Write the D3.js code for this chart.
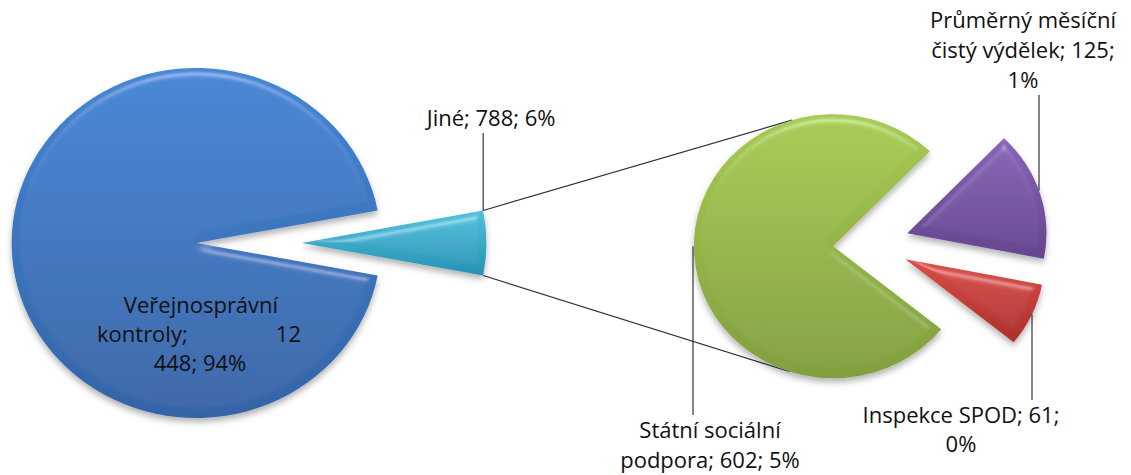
<!DOCTYPE html>
<html>
<head>
<meta charset="utf-8">
<script src="https://cdn.jsdelivr.net/npm/d3@7/dist/d3.min.js"></script>
<style>
  html, body { margin: 0; padding: 0; background: #fff; }
  svg text { font-family: 'Open Sans', sans-serif; font-size: 22px; fill: #111; }
</style>
</head>
<body>
<svg id="chart" width="1131" height="475"></svg>
<script>
// data
const mainNames = ['Veřejnosprávní kontroly', 'Jiné'];
const mainValues = [12448, 788];
const subNames = ['Státní sociální podpora', 'Průměrný měsíční čistý výdělek', 'Inspekce SPOD'];
const subValues = [602, 125, 61];

const mainColors = [['#4385d4', '#3564a6'], ['#4fc0dc', '#2692b3']];
const subColors = [['#a6cb52', '#819f3e'], ['#8763b6', '#64458e'], ['#d94d47', '#ab302c']];

const w = 1131;
const h = 475;
const sx = 1.055; // the picture is a little wider than tall
const main = { cx: 249, cy: 243, r: 175, explode: 50 };
const sub = { cx: 871, cy: 244, r: 132, explode: 36 };

const total = d3.sum(mainValues);
const fmt = d3.formatLocale({ decimal: ',', thousands: ' ', grouping: [3], currency: ['', ' Kč'] }).format(',d');
const pct = (v) => Math.round(v / total * 100) + '%';

const svg = d3.select('#chart');
const defs = svg.append('defs');

// bevel + shadow, something like the office 2007 look
const f = defs.append('filter').attr('id', 'bevel')
  .attr('x', '-10%').attr('y', '-10%').attr('width', '120%').attr('height', '130%');
f.append('feGaussianBlur').attr('in', 'SourceAlpha').attr('stdDeviation', 4).attr('result', 'blur');
f.append('feSpecularLighting').attr('in', 'blur').attr('surfaceScale', 4)
  .attr('specularConstant', 0.6).attr('specularExponent', 60)
  .attr('lighting-color', '#ffffff').attr('result', 'spec')
  .append('feDistantLight').attr('azimuth', -90).attr('elevation', 55);
f.append('feComposite').attr('in', 'spec').attr('in2', 'SourceAlpha').attr('operator', 'in').attr('result', 'specIn');
f.append('feComposite').attr('in', 'SourceGraphic').attr('in2', 'specIn').attr('operator', 'arithmetic')
  .attr('k1', 0).attr('k2', 1).attr('k3', 0.35).attr('k4', 0).attr('result', 'lit');
f.append('feGaussianBlur').attr('in', 'SourceAlpha').attr('stdDeviation', 3).attr('result', 'sh');
f.append('feOffset').attr('in', 'sh').attr('dy', 4).attr('result', 'sho');
f.append('feFlood').attr('flood-color', '#000').attr('flood-opacity', 0.3).attr('result', 'fl');
f.append('feComposite').attr('in', 'fl').attr('in2', 'sho').attr('operator', 'in').attr('result', 'shadow');
const merge = f.append('feMerge');
merge.append('feMergeNode').attr('in', 'shadow');
merge.append('feMergeNode').attr('in', 'lit');

function gradient(id, c) {
  const g = defs.append('linearGradient').attr('id', id)
    .attr('x1', 0).attr('y1', 0).attr('x2', 0).attr('y2', 1);
  g.append('stop').attr('offset', '0%').attr('stop-color', c[0]);
  g.append('stop').attr('offset', '100%').attr('stop-color', c[1]);
}
mainColors.forEach((c, i) => gradient('mg' + i, c));
subColors.forEach((c, i) => gradient('sg' + i, c));

// main pie: "Jiné" faces right
const fOther = mainValues[1] / total;
const mainStart = Math.PI / 2 + Math.PI * fOther;
const mainArcs = d3.pie().sort(null).startAngle(mainStart).endAngle(mainStart + 2 * Math.PI)(mainValues);
// second pie: the two small slices sit in the mouth, tilted a bit upward
const subStart = 129 * Math.PI / 180;
const subArcs = d3.pie().sort(null).startAngle(subStart).endAngle(subStart + 2 * Math.PI)(subValues);

const off = (d, e) => {
  const m = (d.startAngle + d.endAngle) / 2;
  return [Math.sin(m) * e, -Math.cos(m) * e];
};
// screen position of a point given in a pie's own (unstretched) units
const toScreen = (p, x, y) => [p.cx + sx * x, p.cy + y];

const mainArc = d3.arc().innerRadius(0).outerRadius(main.r);
const subArc = d3.arc().innerRadius(0).outerRadius(sub.r);

// connector lines from the cyan slice to the second pie (drawn first, behind)
const other = mainArcs[1];
const [oox, ooy] = off(other, main.explode);
const corners = [other.startAngle, other.endAngle]
  .map((a) => toScreen(main, oox + main.r * Math.sin(a), ooy - main.r * Math.cos(a)))
  .sort((a, b) => a[1] - b[1]);
const green = subArcs[0];
const [gox, goy] = off(green, sub.explode);
const gc = toScreen(sub, gox, goy);
const tangent = (P, upper) => {
  const px = (P[0] - gc[0]) / sx;
  const py = P[1] - gc[1];
  const d = Math.hypot(px, py);
  const phi = Math.atan2(py, px);
  const al = Math.acos(sub.r / d);
  const cands = [phi + al, phi - al].map((t) => [gc[0] + sx * sub.r * Math.cos(t), gc[1] + sub.r * Math.sin(t)]);
  cands.sort((a, b) => a[1] - b[1]);
  return upper ? cands[0] : cands[1];
};
const lines = svg.append('g').attr('stroke', '#333').attr('stroke-width', 1.2).attr('fill', 'none');
lines.append('line').attr('x1', corners[0][0]).attr('y1', corners[0][1])
  .attr('x2', tangent(corners[0], true)[0]).attr('y2', tangent(corners[0], true)[1]);
lines.append('line').attr('x1', corners[1][0]).attr('y1', corners[1][1])
  .attr('x2', tangent(corners[1], false)[0]).attr('y2', tangent(corners[1], false)[1]);

// slices
svg.append('g').attr('transform', `translate(${main.cx},${main.cy}) scale(${sx},1)`)
  .selectAll('path').data(mainArcs).join('path')
  .attr('transform', (d) => `translate(${off(d, main.explode)})`)
  .attr('d', mainArc)
  .attr('fill', (d, i) => `url(#mg${i})`)
  .attr('filter', 'url(#bevel)');

svg.append('g').attr('transform', `translate(${sub.cx},${sub.cy}) scale(${sx},1)`)
  .selectAll('path').data(subArcs).join('path')
  .attr('transform', (d) => `translate(${off(d, sub.explode)})`)
  .attr('d', subArc)
  .attr('fill', (d, i) => `url(#sg${i})`)
  .attr('filter', 'url(#bevel)');

// y of a slice's rim at a given screen x
function rimY(p, d, x, below) {
  const [ox, oy] = off(d, p.explode);
  const c = toScreen(p, ox, oy);
  const dx = (x - c[0]) / sx;
  const dy = Math.sqrt(Math.max(0, p.r * p.r - dx * dx));
  return below ? c[1] + dy : c[1] - dy;
}

// labels
function label(words, breaks, x, y, lh) {
  const rows = [];
  let start = 0;
  breaks.concat([words.length]).forEach((b) => { rows.push(words.slice(start, b).join(' ')); start = b; });
  const t = svg.append('text').attr('text-anchor', 'middle');
  rows.forEach((r, i) => t.append('tspan').attr('x', x).attr('y', y + i * lh).text(r));
}
const words = (name, v) => `${name}; ${fmt(v)}; ${pct(v)}`.split(' ');
const leader = (x, y1, y2) => svg.append('line').attr('x1', x).attr('x2', x).attr('y1', y1).attr('y2', y2)
  .attr('stroke', '#333').attr('stroke-width', 1.2);

// Jiné, leader from its upper corner straight up
label(words(mainNames[1], mainValues[1]), [], corners[0][0] + 8, 126, 29);
leader(corners[0][0], 133, corners[0][1]);

// Průměrný měsíční čistý výdělek
label(words(subNames[1], subValues[1]), [2, 5], 1023, 28, 30);
leader(1039, 95, rimY(sub, subArcs[1], 1039, false));

// Inspekce SPOD
label(words(subNames[2], subValues[2]), [3], 961, 423, 29);
leader(1032, rimY(sub, subArcs[2], 1032, true), 400);

// Státní sociální podpora
label(words(subNames[0], subValues[0]), [2], 710, 438, 30);
leader(693, rimY(sub, subArcs[0], 693, true), 415);

// Veřejnosprávní kontroly: inside the blue slice, middle row justified
const lh = 29;
const bw = words(mainNames[0], mainValues[0]);
const bt = svg.append('g');
bt.append('text').attr('text-anchor', 'middle').attr('x', 201).attr('y', 313).text(bw[0]);
bt.append('text').attr('text-anchor', 'start').attr('x', 97).attr('y', 313 + lh).text(bw[1]);
bt.append('text').attr('text-anchor', 'end').attr('x', 301).attr('y', 313 + lh).text(bw[2]);
bt.append('text').attr('text-anchor', 'middle').attr('x', 200).attr('y', 313 + 2 * lh).text(bw.slice(3).join(' '));
</script>
</body>
</html>
